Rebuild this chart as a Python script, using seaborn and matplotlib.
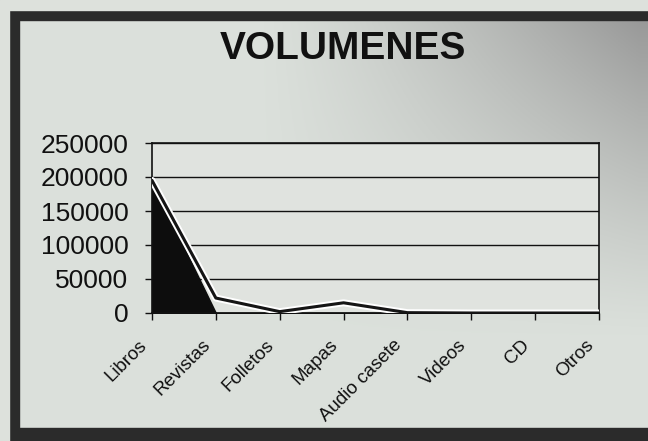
import matplotlib
matplotlib.use('Agg')
import matplotlib.pyplot as plt
import matplotlib.patheffects as pe
import matplotlib.transforms as mtrans
import numpy as np
import pandas as pd
import seaborn as sns

# datos
categorias = ['Libros', 'Revistas', 'Folletos', 'Mapas', 'Audio casete',
              'Videos', 'CD', 'Otros']
volumen_area = [193000, 0, 0, 0, 0, 0, 0, 0]
volumen_linea = [195000, 22000, 2000, 15000, 500, 0, 0, 0]
y_ticks = [0, 50000, 100000, 150000, 200000, 250000]

sns.set_theme(style='white')
plt.rcParams['font.family'] = ['Liberation Sans', 'DejaVu Sans']

fig = plt.figure(figsize=(6.48, 4.41), dpi=100)

# fondo degradado de la diapositiva
bg = fig.add_axes([0, 0, 1, 1])
bg.set_axis_off()
xx, yy = np.meshgrid(np.linspace(0, 1, 324), np.linspace(0, 1, 220))
d = np.clip((xx - 0.4) * 1.7, 0, 1) * np.clip(1 - yy * 1.3, 0, 1)
d = d ** 1.2
light = np.array([0.86, 0.88, 0.86])
dark = np.array([0.58, 0.58, 0.58])
img = light[None, None, :] * (1 - d[..., None]) + dark[None, None, :] * d[..., None]
bg.imshow(img, extent=[0, 1, 0, 1], aspect='auto', origin='upper', zorder=0)
bg.set_xlim(0, 1)
bg.set_ylim(0, 1)
# marco oscuro
W, H = 648, 441
bg.add_patch(plt.Rectangle((9 / W, 0), 10 / W, 1 - 10 / H, color='#2b2b2b', zorder=4))
bg.add_patch(plt.Rectangle((9 / W, 1 - 20 / H), 1, 10 / H, color='#2b2b2b', zorder=4))
bg.add_patch(plt.Rectangle((9 / W, 0), 1, 13 / H, color='#2b2b2b', zorder=4))
bg.add_patch(plt.Rectangle((0, 0), 9 / W, 1, color='#dde1dc', zorder=5))
bg.add_patch(plt.Rectangle((0, 1 - 10 / H), 1, 10 / H, color='#dde1dc', zorder=5))

fig.text(343 / W, 1 - 49 / H, 'VOLUMENES', ha='center', va='center',
         fontsize=28, fontweight='bold', color='#111111')

ax = fig.add_axes([152 / W, 1 - 313 / H, (599 - 152) / W, (313 - 143) / H])
ax.set_facecolor('#e0e3df')
pos = np.arange(len(categorias))
df = pd.DataFrame({'pos': pos, 'linea': volumen_linea})

ax.fill_between(pos, volumen_area, 0, color='#0d0d0d', zorder=2)
sns.lineplot(data=df, x='pos', y='linea', ax=ax, color='#151515', lw=2.2,
             zorder=3,
             path_effects=[pe.Stroke(linewidth=5, foreground='white'), pe.Normal()])

ax.set_xlim(0, len(categorias) - 1)
ax.set_ylim(0, 250000)
ax.set_yticks(y_ticks)
ax.set_yticklabels([str(v) for v in y_ticks], fontsize=19, color='#111111')
ax.set_xticks(pos)
ax.set_xticklabels(categorias, rotation=45, ha='right', rotation_mode='anchor',
                   fontsize=13.5, color='#111111')
ax.set_xlabel('')
ax.set_ylabel('')
for v in y_ticks[1:]:
    ax.axhline(v, color='#111111', lw=1.0, zorder=1)
for s in ax.spines.values():
    s.set_visible(True)
    s.set_color('#111111')
    s.set_linewidth(1.2)
ax.tick_params(axis='both', direction='out', length=5, width=1, color='#111111',
               left=True, bottom=True)
ax.tick_params(axis='y', pad=12)
ax.tick_params(axis='x', pad=12)
ax.grid(False)

# etiquetas del eje x un poco a la izquierda, como en el original
shift = mtrans.ScaledTranslation(-14 / 100, 0, fig.dpi_scale_trans)
for lbl in ax.get_xticklabels():
    lbl.set_transform(lbl.get_transform() + shift)

fig.savefig('out.png', dpi=100)
